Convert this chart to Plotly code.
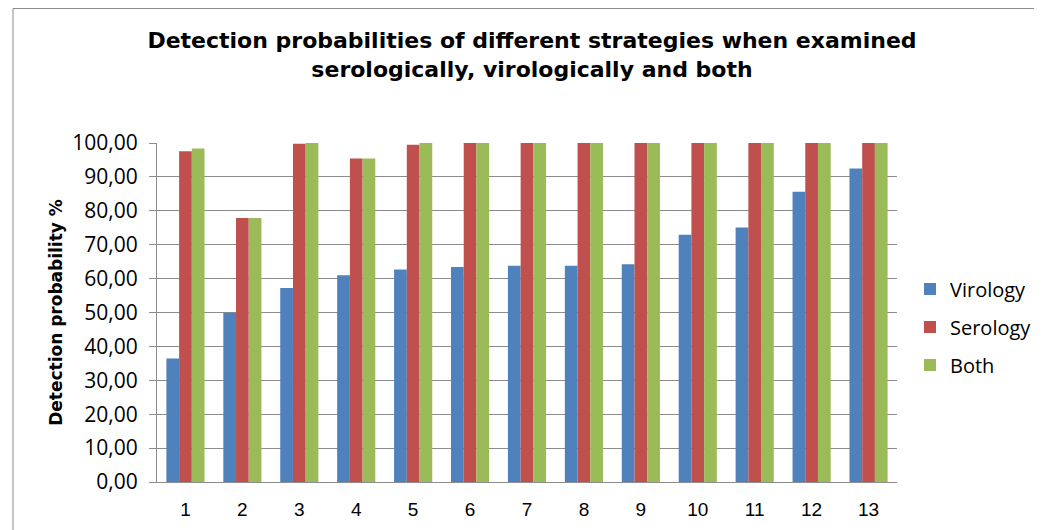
import plotly.graph_objects as go

categories = [str(i) for i in range(1, 14)]
virology = [36.4, 49.9, 57.2, 61.0, 62.7, 63.4, 63.8, 63.8, 64.2, 72.9, 75.1, 85.6, 92.5]
serology = [97.6, 77.9, 99.8, 95.4, 99.5, 100, 100, 100, 100, 100, 100, 100, 100]
both = [98.4, 77.9, 100, 95.4, 100, 100, 100, 100, 100, 100, 100, 100, 100]
y_ticks = [0, 10, 20, 30, 40, 50, 60, 70, 80, 90, 100]

fig = go.Figure()
fig.add_trace(go.Bar(name="Virology", x=categories, y=virology, legendgroup="v",
                     marker=dict(color="#4F81BD", line=dict(width=0))))
fig.add_trace(go.Bar(name="Serology", x=categories, y=serology, legendgroup="s",
                     marker=dict(color="#C0504D", line=dict(width=0))))
fig.add_trace(go.Bar(name="Both", x=categories, y=both, legendgroup="b",
                     marker=dict(color="#9BBB59", line=dict(width=0))))

# page has an 8px body margin; the figure is sized/laid out to compensate
W, H = 1034, 522
L, R, T, B = 149, 145, 135, 48
pw = W - L - R
ph = H - T - B

fig.update_layout(
    width=W, height=H,
    margin=dict(l=L, r=R, t=T, b=B, pad=0),
    paper_bgcolor="white", plot_bgcolor="white",
    barmode="group", bargap=0.33, bargroupgap=0,
    separators=",.",
    title=dict(
        text="Detection probabilities of different strategies when examined<br>serologically, virologically and both",
        x=524 / W, xanchor="center", y=1 - 40 / H, yanchor="middle",
        font=dict(family="DejaVu Sans", size=22, color="black", weight="bold"),
    ),
    legend=dict(
        xref="container", yref="container",
        x=902 / W, xanchor="left", y=1 - 319 / H, yanchor="middle",
        font=dict(family="Open Sans", size=20, color="black", weight="normal"),
        traceorder="grouped", tracegroupgap=9, itemwidth=30, bgcolor="rgba(0,0,0,0)",
    ),
    xaxis=dict(
        type="category", showgrid=False, automargin=False,
        showline=True, linecolor="#8c8c8c", linewidth=1,
        ticks="", ticklabelstandoff=10,
        tickfont=dict(family="Liberation Sans", size=19, color="black", weight="normal"),
    ),
    yaxis=dict(
        range=[0, 100], tickvals=y_ticks, tickformat=".2f", automargin=False,
        showgrid=True, gridcolor="#8c8c8c", gridwidth=1,
        showline=True, linecolor="#8c8c8c", linewidth=1,
        ticks="outside", ticklen=7, tickcolor="#8c8c8c", ticklabelstandoff=7,
        tickfont=dict(family="Open Sans", size=21, color="black", weight="normal"),
        title=dict(text="Detection probability %", standoff=5,
                   font=dict(family="DejaVu Sans", size=17, color="black", weight="bold")),
        zeroline=False,
    ),
)

fig.add_shape(type="rect", xref="paper", yref="paper",
              x0=(5 - L) / pw, x1=(1200 - L) / pw,
              y0=(474 - 600) / ph, y1=1 + (T - 0.5) / ph,
              line=dict(color="#8c8c8c", width=1), fillcolor="rgba(0,0,0,0)", layer="below")

fig.write_html("out.html")
